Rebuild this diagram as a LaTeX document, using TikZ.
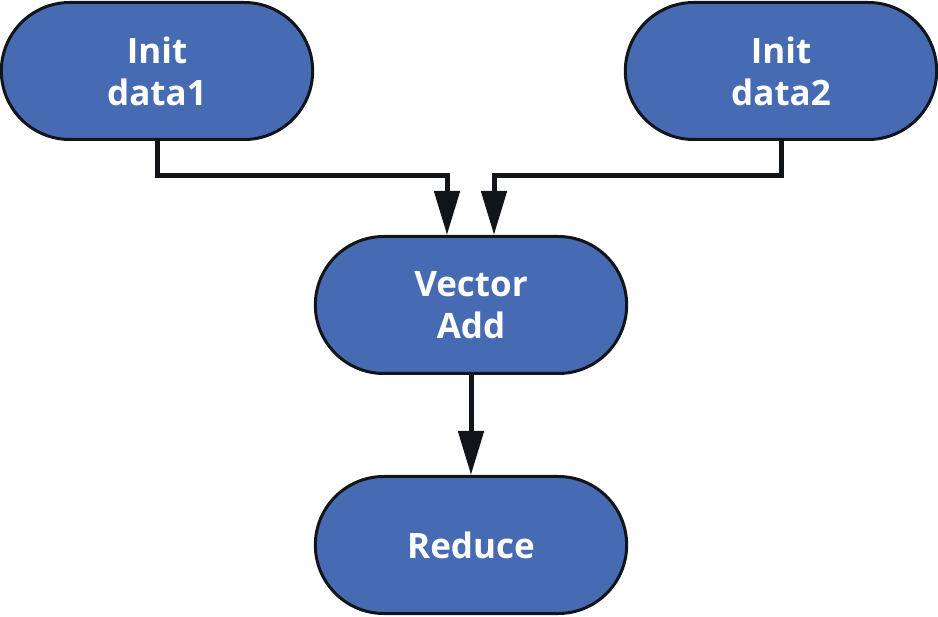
\documentclass[tikz,border=0pt]{standalone}
\usepackage{fontspec}
\setmainfont{Open Sans}
\usepackage{xcolor}
\usetikzlibrary{arrows.meta}
\usetikzlibrary{shapes.misc}
\definecolor{stepblue}{HTML}{466BB3}
\definecolor{linkblack}{HTML}{111418}

\begin{document}
\begin{tikzpicture}[x = 1pt, y = -1pt,
	block/.style = {rounded rectangle, draw = linkblack, line width = 3pt, fill = stepblue,
		minimum width = 318pt, minimum height = 137pt, align = center, text = white,
		font = \fontsize{35}{42}\selectfont\bfseries},
	link/.style = {draw = linkblack, line width = 5pt,
		-{Triangle[length = 44pt, width = 25pt]}}]
	\useasboundingbox (0,0) rectangle (938,617);
	
	\node[block] (data1) at (157,71) {Init\\data1};
	\node[block] (data2) at (781,71) {Init\\data2};
	\node[block] (vadd) at (471,305) {Vector\\Add};
	\node[block] (reduce) at (471,545) {Reduce};
	
	\coordinate (j1) at (447,176);
	\coordinate (j2) at (494,176);
	
	\draw[link] (data1.south) |- (j1) -- (j1 |- vadd.north);
	\draw[link] (data2.south) |- (j2) -- (j2 |- vadd.north);
	\draw[link] (vadd.south) -- (reduce.north);
	
\end{tikzpicture}
\end{document}
